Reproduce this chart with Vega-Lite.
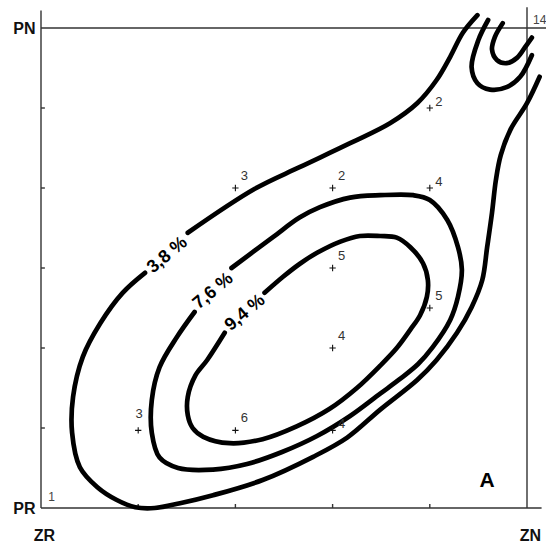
{
  "$schema": "https://vega.github.io/schema/vega-lite/v6.json",
  "width": 486,
  "height": 480,
  "autosize": {"type": "none"},
  "padding": {"left": 41, "top": 28, "right": 19, "bottom": 36},
  "background": "white",
  "config": {"view": {"stroke": null}, "font": "Liberation Sans"},
  "datasets": {
    "frame": [
      {"x": 0, "y": 0, "x2": 0, "y2": 6.22},
      {"x": 5, "y": 0, "x2": 5, "y2": 6.26},
      {"x": 0, "y": 6, "x2": 5.2, "y2": 6},
      {"x": 0, "y": 0, "x2": 5.15, "y2": 0},
      {"x": 1, "y": 0, "x2": 1, "y2": 0.05},
      {"x": 2, "y": 0, "x2": 2, "y2": 0.05},
      {"x": 3, "y": 0, "x2": 3, "y2": 0.05},
      {"x": 4, "y": 0, "x2": 4, "y2": 0.05},
      {"x": 0, "y": 1, "x2": 0.04, "y2": 1},
      {"x": 0, "y": 2, "x2": 0.04, "y2": 2},
      {"x": 0, "y": 3, "x2": 0.04, "y2": 3},
      {"x": 0, "y": 4, "x2": 0.04, "y2": 4},
      {"x": 0, "y": 5, "x2": 0.04, "y2": 5}
    ],
    "contours": [
      {"c": "o1", "i": 0, "x": 4.49, "y": 6.16},
      {"c": "o1", "i": 1, "x": 4.34, "y": 5.94},
      {"c": "o1", "i": 2, "x": 4.21, "y": 5.64},
      {"c": "o1", "i": 3, "x": 4.07, "y": 5.35},
      {"c": "o1", "i": 4, "x": 3.87, "y": 5.06},
      {"c": "o1", "i": 5, "x": 3.59, "y": 4.81},
      {"c": "o1", "i": 6, "x": 3.18, "y": 4.56},
      {"c": "o1", "i": 7, "x": 2.66, "y": 4.26},
      {"c": "o1", "i": 8, "x": 2.20, "y": 3.99},
      {"c": "o1", "i": 9, "x": 1.51, "y": 3.44},
      {"c": "o2", "i": 0, "x": 1.07, "y": 2.94},
      {"c": "o2", "i": 1, "x": 0.84, "y": 2.69},
      {"c": "o2", "i": 2, "x": 0.61, "y": 2.31},
      {"c": "o2", "i": 3, "x": 0.43, "y": 1.89},
      {"c": "o2", "i": 4, "x": 0.33, "y": 1.39},
      {"c": "o2", "i": 5, "x": 0.32, "y": 0.94},
      {"c": "o2", "i": 6, "x": 0.40, "y": 0.51},
      {"c": "o2", "i": 7, "x": 0.58, "y": 0.26},
      {"c": "o2", "i": 8, "x": 0.78, "y": 0.10},
      {"c": "o2", "i": 9, "x": 0.97, "y": 0.01},
      {"c": "o2", "i": 10, "x": 1.17, "y": 0.00},
      {"c": "o2", "i": 11, "x": 1.43, "y": 0.06},
      {"c": "o2", "i": 12, "x": 1.77, "y": 0.16},
      {"c": "o2", "i": 13, "x": 2.28, "y": 0.35},
      {"c": "o2", "i": 14, "x": 2.80, "y": 0.64},
      {"c": "o2", "i": 15, "x": 3.15, "y": 0.88},
      {"c": "o2", "i": 16, "x": 3.49, "y": 1.23},
      {"c": "o2", "i": 17, "x": 3.87, "y": 1.60},
      {"c": "o2", "i": 18, "x": 4.07, "y": 1.85},
      {"c": "o2", "i": 19, "x": 4.28, "y": 2.19},
      {"c": "o2", "i": 20, "x": 4.43, "y": 2.51},
      {"c": "o2", "i": 21, "x": 4.54, "y": 2.85},
      {"c": "o2", "i": 22, "x": 4.59, "y": 3.26},
      {"c": "o2", "i": 23, "x": 4.64, "y": 3.69},
      {"c": "o2", "i": 24, "x": 4.68, "y": 4.10},
      {"c": "o2", "i": 25, "x": 4.73, "y": 4.41},
      {"c": "o2", "i": 26, "x": 4.83, "y": 4.73},
      {"c": "o2", "i": 27, "x": 5.00, "y": 5.06},
      {"c": "o2", "i": 28, "x": 5.13, "y": 5.39},
      {"c": "m", "i": 0, "x": 1.58, "y": 2.45},
      {"c": "m", "i": 1, "x": 1.40, "y": 2.14},
      {"c": "m", "i": 2, "x": 1.22, "y": 1.76},
      {"c": "m", "i": 3, "x": 1.14, "y": 1.35},
      {"c": "m", "i": 4, "x": 1.14, "y": 0.94},
      {"c": "m", "i": 5, "x": 1.22, "y": 0.63},
      {"c": "m", "i": 6, "x": 1.41, "y": 0.50},
      {"c": "m", "i": 7, "x": 1.77, "y": 0.48},
      {"c": "m", "i": 8, "x": 2.12, "y": 0.55},
      {"c": "m", "i": 9, "x": 2.48, "y": 0.70},
      {"c": "m", "i": 10, "x": 2.84, "y": 0.90},
      {"c": "m", "i": 11, "x": 3.18, "y": 1.15},
      {"c": "m", "i": 12, "x": 3.49, "y": 1.43},
      {"c": "m", "i": 13, "x": 3.69, "y": 1.61},
      {"c": "m", "i": 14, "x": 3.88, "y": 1.80},
      {"c": "m", "i": 15, "x": 4.03, "y": 2.01},
      {"c": "m", "i": 16, "x": 4.21, "y": 2.35},
      {"c": "m", "i": 17, "x": 4.29, "y": 2.64},
      {"c": "m", "i": 18, "x": 4.33, "y": 2.98},
      {"c": "m", "i": 19, "x": 4.29, "y": 3.26},
      {"c": "m", "i": 20, "x": 4.18, "y": 3.60},
      {"c": "m", "i": 21, "x": 4.00, "y": 3.85},
      {"c": "m", "i": 22, "x": 3.83, "y": 3.91},
      {"c": "m", "i": 23, "x": 3.49, "y": 3.91},
      {"c": "m", "i": 24, "x": 3.18, "y": 3.88},
      {"c": "m", "i": 25, "x": 2.87, "y": 3.76},
      {"c": "m", "i": 26, "x": 2.66, "y": 3.63},
      {"c": "m", "i": 27, "x": 2.39, "y": 3.39},
      {"c": "m", "i": 28, "x": 1.96, "y": 3.00},
      {"c": "n", "i": 0, "x": 1.89, "y": 2.19},
      {"c": "n", "i": 1, "x": 1.71, "y": 1.85},
      {"c": "n", "i": 2, "x": 1.59, "y": 1.66},
      {"c": "n", "i": 3, "x": 1.51, "y": 1.39},
      {"c": "n", "i": 4, "x": 1.51, "y": 1.16},
      {"c": "n", "i": 5, "x": 1.56, "y": 1.00},
      {"c": "n", "i": 6, "x": 1.67, "y": 0.89},
      {"c": "n", "i": 7, "x": 1.94, "y": 0.81},
      {"c": "n", "i": 8, "x": 2.28, "y": 0.86},
      {"c": "n", "i": 9, "x": 2.63, "y": 1.02},
      {"c": "n", "i": 10, "x": 2.97, "y": 1.24},
      {"c": "n", "i": 11, "x": 3.25, "y": 1.50},
      {"c": "n", "i": 12, "x": 3.49, "y": 1.78},
      {"c": "n", "i": 13, "x": 3.66, "y": 2.00},
      {"c": "n", "i": 14, "x": 3.80, "y": 2.23},
      {"c": "n", "i": 15, "x": 3.90, "y": 2.41},
      {"c": "n", "i": 16, "x": 3.97, "y": 2.64},
      {"c": "n", "i": 17, "x": 3.98, "y": 2.85},
      {"c": "n", "i": 18, "x": 3.93, "y": 3.06},
      {"c": "n", "i": 19, "x": 3.80, "y": 3.26},
      {"c": "n", "i": 20, "x": 3.66, "y": 3.38},
      {"c": "n", "i": 21, "x": 3.49, "y": 3.40},
      {"c": "n", "i": 22, "x": 3.28, "y": 3.40},
      {"c": "n", "i": 23, "x": 3.08, "y": 3.33},
      {"c": "n", "i": 24, "x": 2.84, "y": 3.19},
      {"c": "n", "i": 25, "x": 2.66, "y": 3.05},
      {"c": "n", "i": 26, "x": 2.49, "y": 2.89},
      {"c": "n", "i": 27, "x": 2.30, "y": 2.69},
      {"c": "u1", "i": 0, "x": 4.60, "y": 6.10},
      {"c": "u1", "i": 1, "x": 4.50, "y": 5.85},
      {"c": "u1", "i": 2, "x": 4.43, "y": 5.51},
      {"c": "u1", "i": 3, "x": 4.49, "y": 5.31},
      {"c": "u1", "i": 4, "x": 4.62, "y": 5.23},
      {"c": "u1", "i": 5, "x": 4.79, "y": 5.26},
      {"c": "u1", "i": 6, "x": 4.93, "y": 5.39},
      {"c": "u1", "i": 7, "x": 5.05, "y": 5.66},
      {"c": "u2", "i": 0, "x": 4.75, "y": 6.06},
      {"c": "u2", "i": 1, "x": 4.67, "y": 5.89},
      {"c": "u2", "i": 2, "x": 4.64, "y": 5.73},
      {"c": "u2", "i": 3, "x": 4.69, "y": 5.60},
      {"c": "u2", "i": 4, "x": 4.79, "y": 5.56},
      {"c": "u2", "i": 5, "x": 4.90, "y": 5.63},
      {"c": "u2", "i": 6, "x": 4.98, "y": 5.76},
      {"c": "u2", "i": 7, "x": 5.05, "y": 5.88}
    ],
    "points": [
      {"x": 2, "y": 4, "v": "3"},
      {"x": 3, "y": 4, "v": "2"},
      {"x": 4, "y": 5, "v": "2"},
      {"x": 4, "y": 4, "v": "4"},
      {"x": 3, "y": 3, "v": "5"},
      {"x": 4, "y": 2.5, "v": "5"},
      {"x": 3, "y": 2, "v": "4"},
      {"x": 3, "y": 0.97, "v": "4"},
      {"x": 1, "y": 0.97, "v": "3"},
      {"x": 2, "y": 0.97, "v": "6"}
    ],
    "clabels": [
      {"x": 1.30, "y": 3.16, "t": "3,8 %"},
      {"x": 1.77, "y": 2.71, "t": "7,6 %"},
      {"x": 2.10, "y": 2.44, "t": "9,4 %"}
    ]
  },
  "encoding": {
    "x": {"field": "x", "type": "quantitative", "title": null,
      "scale": {"domain": [0, 5], "nice": false, "zero": false},
      "axis": {"values": [0, 5], "labelExpr": "datum.value == 0 ? 'ZR' : 'ZN'", "title": null, "domain": false, "ticks": false, "tickSize": 0, "grid": false, "labelPadding": 19, "labelFontSize": 16, "labelFontWeight": "bold", "labelColor": "#111111", "labelOffset": 3, "labelFlush": false, "labelOverlap": false}},
    "y": {"field": "y", "type": "quantitative", "title": null,
      "scale": {"domain": [0, 6], "nice": false, "zero": false},
      "axis": {"values": [0, 6], "labelExpr": "datum.value == 0 ? 'PR' : 'PN'", "title": null, "domain": false, "ticks": false, "tickSize": 0, "grid": false, "labelPadding": 6, "labelFontSize": 16, "labelFontWeight": "bold", "labelColor": "#111111", "labelFlush": false, "labelOverlap": false, "labelBaseline": "middle"}}
  },
  "layer": [
    {
      "data": {"name": "frame"},
      "mark": {"type": "rule", "stroke": "#333333", "strokeWidth": 1.4},
      "encoding": {
        "x2": {"field": "x2"},
        "y2": {"field": "y2"}
      }
    },
    {
      "data": {"name": "contours"},
      "mark": {"type": "line", "stroke": "#000000", "strokeWidth": 4.7, "strokeCap": "round", "interpolate": "catmull-rom"},
      "encoding": {
        "detail": {"field": "c"},
        "order": {"field": "i", "type": "quantitative"}
      }
    },
    {
      "data": {"name": "points"},
      "mark": {"type": "point", "shape": "M-1,0L1,0M0,-1L0,1", "size": 40, "filled": false, "stroke": "#111111", "strokeWidth": 1.1, "opacity": 1},
      "encoding": {}
    },
    {
      "data": {"name": "points"},
      "transform": [{"filter": "!(datum.x == 1 && datum.y == 0.97) && !(datum.x == 4 && datum.y == 5) && !(datum.x == 3 && datum.y == 0.97) && !(datum.x == 4 && datum.y == 4)"}],
      "mark": {"type": "text", "fontSize": 13, "color": "#333333", "dx": 9, "dy": -12, "align": "center", "baseline": "middle"},
      "encoding": {"text": {"field": "v"}}
    },
    {
      "data": {"name": "points"},
      "transform": [{"filter": "(datum.x == 4 && datum.y == 5) || (datum.x == 3 && datum.y == 0.97) || (datum.x == 4 && datum.y == 4)"}],
      "mark": {"type": "text", "fontSize": 13, "color": "#333333", "dx": 9, "dy": -6, "align": "center", "baseline": "middle"},
      "encoding": {"text": {"field": "v"}}
    },
    {
      "data": {"name": "points"},
      "transform": [{"filter": "datum.x == 1 && datum.y == 0.97"}],
      "mark": {"type": "text", "fontSize": 13, "color": "#333333", "dx": 1, "dy": -16, "align": "center", "baseline": "middle"},
      "encoding": {"text": {"field": "v"}}
    },
    {
      "data": {"name": "clabels"},
      "mark": {"type": "text", "fontSize": 18, "fontWeight": "bold", "color": "#000000", "angle": -40, "align": "center", "baseline": "middle"},
      "encoding": {"text": {"field": "t"}}
    },
    {
      "data": {"values": [{"x": 4.59, "y": 0.34, "t": "A"}]},
      "mark": {"type": "text", "fontSize": 21, "fontWeight": "bold", "color": "#000000", "align": "center", "baseline": "middle"},
      "encoding": {"text": {"field": "t"}}
    },
    {
      "data": {"values": [{"x": 0.11, "y": 0.14, "t": "1"}, {"x": 5.13, "y": 6.1, "t": "14"}]},
      "mark": {"type": "text", "fontSize": 12, "color": "#444444", "align": "center", "baseline": "middle"},
      "encoding": {"text": {"field": "t"}}
    }
  ]
}
